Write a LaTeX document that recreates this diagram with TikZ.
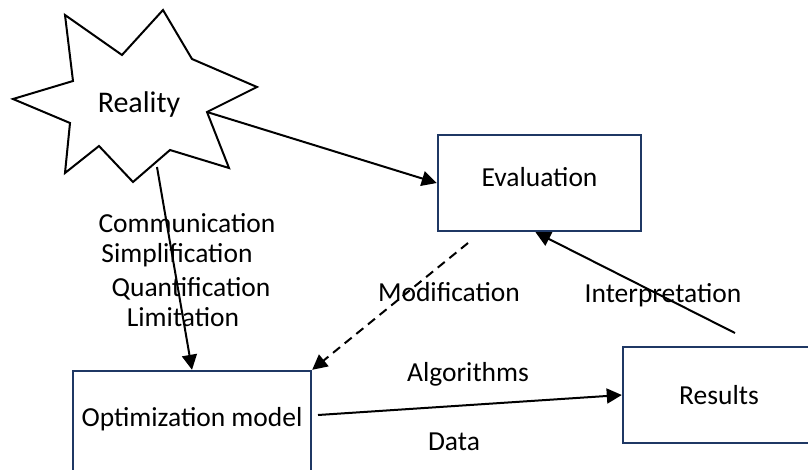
\documentclass[tikz,border=0pt]{standalone}
\usepackage{xcolor}
\usepackage{fontspec}
\setmainfont{Carlito}
\usepackage[]{tikz}
\usetikzlibrary{positioning,arrows.meta}

\definecolor{boxline}{RGB}{31,56,100}

\begin{document}
\begin{tikzpicture}[
    x=1pt, y=-1pt,
    font=\fontsize{27.5}{33}\selectfont,
    >={Triangle[length=15pt,width=15pt]},
    flow/.style = {->, line width=2pt},
    box/.style = {rectangle, draw=boxline, line width=2.4pt, inner sep=0pt,
                  text height=18pt, text depth=0pt},
    lbl/.style = {inner sep=0pt, text height=18pt, text depth=0pt}
]
\useasboundingbox (0,0) rectangle (808,469);

% reality star
\draw[line width=2pt, line join=miter]
    (65,15) -- (122,55) -- (163,10) -- (192,59) -- (257,87) -- (207,112)
    -- (229,168) -- (170,150) -- (133,182) -- (99,146) -- (65,173)
    -- (70,123) -- (13,99) -- (73,81) -- cycle;
\node[lbl, font=\fontsize{30}{36}\selectfont, text height=20pt] (real) at (139,102) {Reality};
\coordinate (realR) at (207,112);
\coordinate (realB) at (157,167);

\node[box, minimum width=203pt, minimum height=96pt, text depth=12pt] (eval) at (539.5,183) {Evaluation};
\node[box, minimum width=238pt, minimum height=104pt, text depth=12pt] (opt) at (192,423) {Optimization model};
\node[box, minimum width=192pt, minimum height=96pt] (res) at (719,395) {Results};

\coordinate (modS) at (468,243);
\coordinate (intS) at (735,333);
\coordinate (algS) at (318,415);

\draw[flow] (realR) -- (eval.west);
\draw[flow] (realB) -- (opt.north);
\draw[flow, dash pattern=on 9pt off 6pt] (modS) -- (opt.north east);
\draw[flow] (intS) -- ([xshift=-4pt]eval.south);
\draw[flow] (algS) -- (res.west);

\node[lbl] (comm) at (187,223) {Communication};
\node[lbl] (simp) at (177,253) {Simplification};
\node[lbl] (quan) at (191,287) {Quantification};
\node[lbl] (limi) at (183,317) {Limitation};

\node[lbl] (modi) at (449,292) {Modification};
\node[lbl] (inte) at (663,293) {Interpretation};
\node[lbl] (algo) at (468,372) {Algorithms};
\node[lbl] (data) at (454,441) {Data};

\end{tikzpicture}
\end{document}
